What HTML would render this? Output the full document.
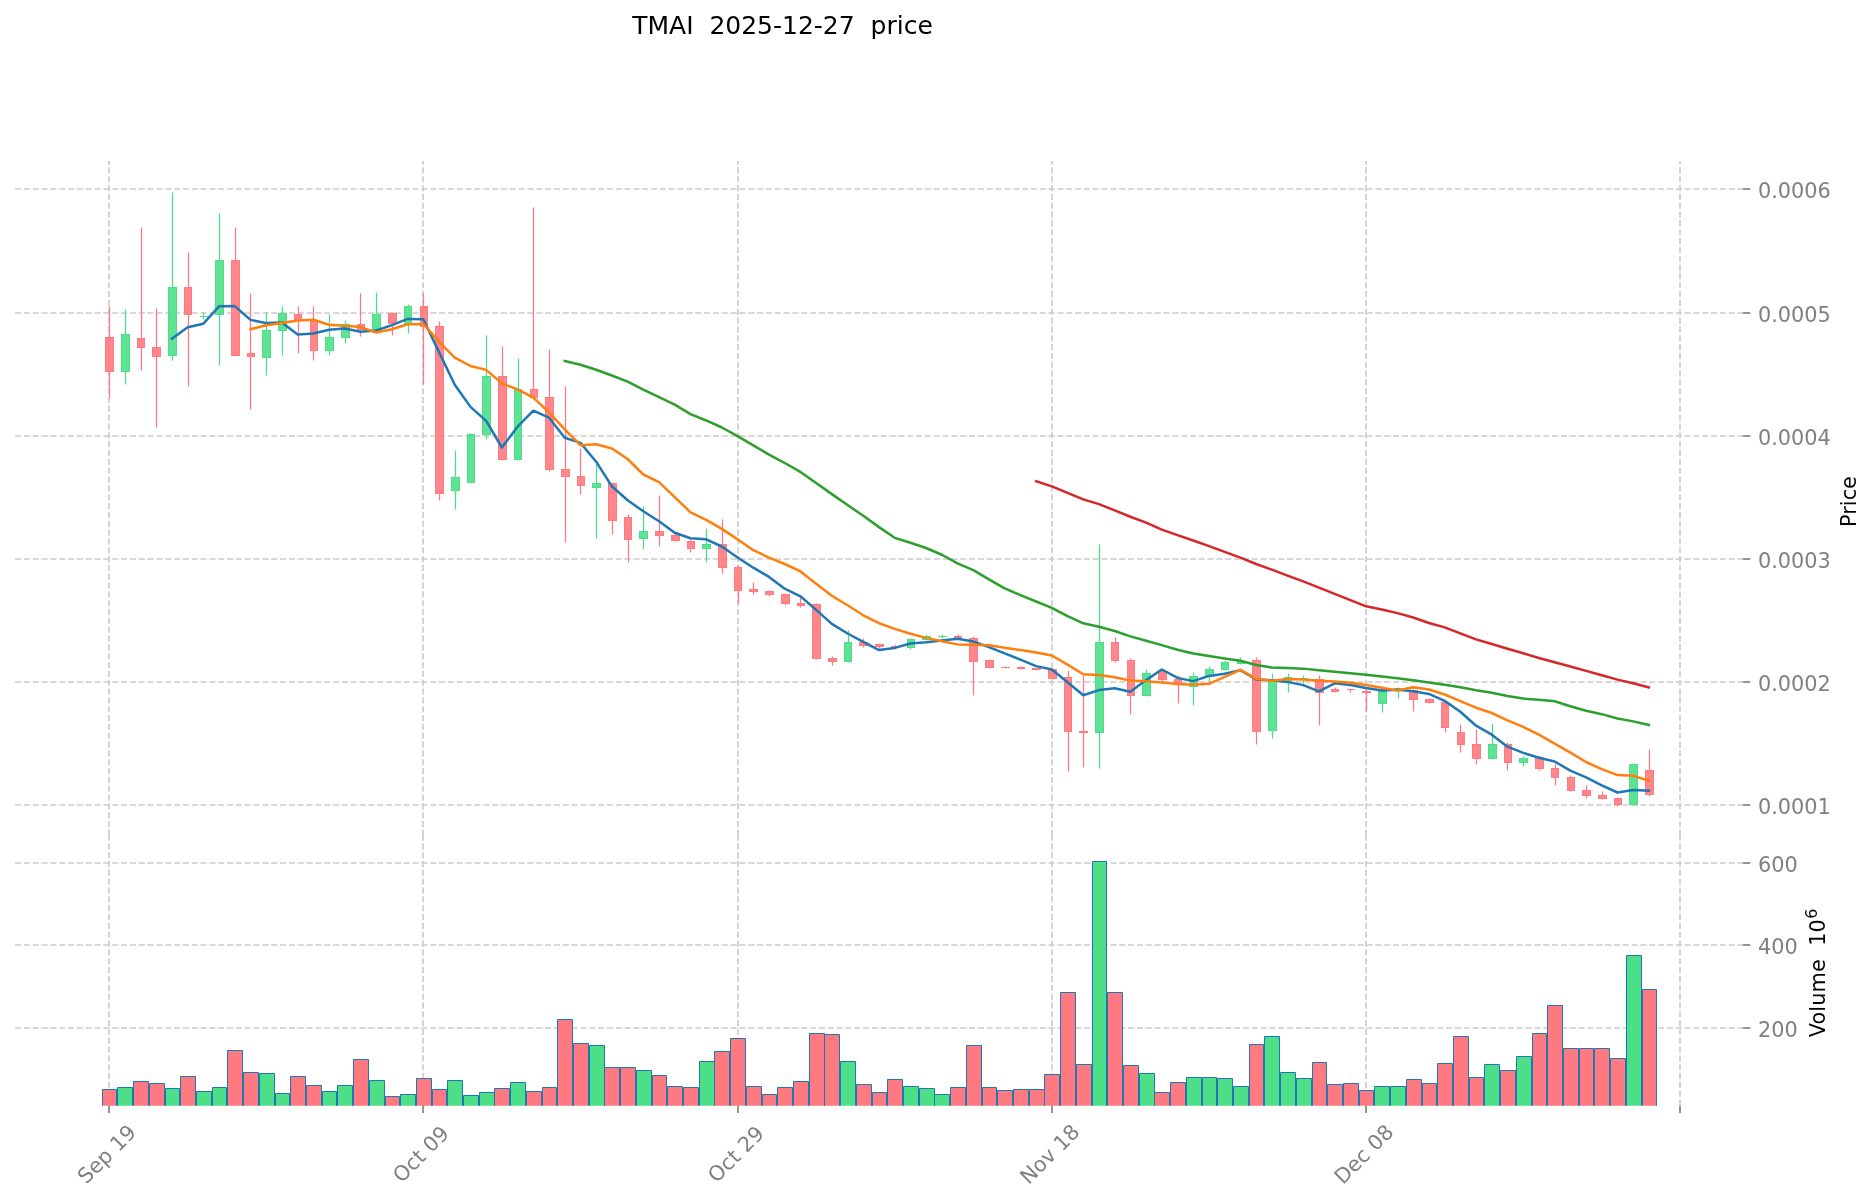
<!DOCTYPE html>
<html><head><meta charset="utf-8"><title>TMAI 2025-12-27 price</title>
<style>html,body{margin:0;padding:0;background:#fff;overflow:hidden}svg{display:block;will-change:transform}</style></head>
<body>
<svg width="1873" height="1202" viewBox="0 0 1873 1202" font-family="'DejaVu Sans', 'Liberation Sans', sans-serif">
<rect width="1873" height="1202" fill="#fff"/>
<defs><clipPath id="cv"><rect x="15.0" y="836.0" width="1727.9" height="269.70000000000005"/></clipPath></defs>
<text x="782.5" y="34.2" font-size="25" text-anchor="middle" fill="#000" xml:space="preserve" style="white-space:pre">TMAI  2025-12-27  price</text>
<g stroke="#cccccc" stroke-width="1.6667" stroke-dasharray="6.1667 2.6667" fill="none">
<path d="M15.0 189H1742.9"/>
<path d="M15.0 313H1742.9"/>
<path d="M15.0 436H1742.9"/>
<path d="M15.0 559H1742.9"/>
<path d="M15.0 682H1742.9"/>
<path d="M15.0 805H1742.9"/>
<path d="M15.0 863H1742.9"/>
<path d="M15.0 945H1742.9"/>
<path d="M15.0 1028H1742.9"/>
<path d="M109 836.0V161.1"/>
<path d="M109 1105.7V836.0"/>
<path d="M423 836.0V161.1"/>
<path d="M423 1105.7V836.0"/>
<path d="M738 836.0V161.1"/>
<path d="M738 1105.7V836.0"/>
<path d="M1052 836.0V161.1"/>
<path d="M1052 1105.7V836.0"/>
<path d="M1366 836.0V161.1"/>
<path d="M1366 1105.7V836.0"/>
<path d="M1680 836.0V161.1"/>
<path d="M1680 1105.7V836.0"/>
</g>
<g stroke="#1f77b4" stroke-width="1" clip-path="url(#cv)">
<path d="M102.5 1112V1089.5H116.5V1112" fill="#ff7a80" fill-opacity="1"/>
<path d="M117.5 1112V1087.5H132.5V1112" fill="#4cdf87" fill-opacity="1"/>
<path d="M133.5 1112V1081.5H148.5V1112" fill="#ff7a80" fill-opacity="1"/>
<path d="M149.5 1112V1083.5H164.5V1112" fill="#ff7a80" fill-opacity="1"/>
<path d="M165.5 1112V1088.5H179.5V1112" fill="#4cdf87" fill-opacity="1"/>
<path d="M180.5 1112V1076.5H195.5V1112" fill="#ff7a80" fill-opacity="1"/>
<path d="M196.5 1112V1091.5H211.5V1112" fill="#4cdf87" fill-opacity="1"/>
<path d="M212.5 1112V1087.5H226.5V1112" fill="#4cdf87" fill-opacity="1"/>
<path d="M227.5 1112V1050.5H242.5V1112" fill="#ff7a80" fill-opacity="1"/>
<path d="M243.5 1112V1072.5H258.5V1112" fill="#ff7a80" fill-opacity="1"/>
<path d="M259.5 1112V1073.5H274.5V1112" fill="#4cdf87" fill-opacity="1"/>
<path d="M275.5 1112V1093.5H289.5V1112" fill="#4cdf87" fill-opacity="1"/>
<path d="M290.5 1112V1076.5H305.5V1112" fill="#ff7a80" fill-opacity="1"/>
<path d="M306.5 1112V1085.5H321.5V1112" fill="#ff7a80" fill-opacity="1"/>
<path d="M322.5 1112V1091.5H336.5V1112" fill="#4cdf87" fill-opacity="1"/>
<path d="M337.5 1112V1085.5H352.5V1112" fill="#4cdf87" fill-opacity="1"/>
<path d="M353.5 1112V1059.5H368.5V1112" fill="#ff7a80" fill-opacity="1"/>
<path d="M369.5 1112V1080.5H384.5V1112" fill="#4cdf87" fill-opacity="1"/>
<path d="M385.5 1112V1096.5H399.5V1112" fill="#ff7a80" fill-opacity="1"/>
<path d="M400.5 1112V1094.5H415.5V1112" fill="#4cdf87" fill-opacity="1"/>
<path d="M416.5 1112V1078.5H431.5V1112" fill="#ff7a80" fill-opacity="1"/>
<path d="M432.5 1112V1089.5H446.5V1112" fill="#ff7a80" fill-opacity="1"/>
<path d="M447.5 1112V1080.5H462.5V1112" fill="#4cdf87" fill-opacity="1"/>
<path d="M463.5 1112V1095.5H478.5V1112" fill="#4cdf87" fill-opacity="1"/>
<path d="M479.5 1112V1092.5H494.5V1112" fill="#4cdf87" fill-opacity="1"/>
<path d="M494.5 1112V1088.5H509.5V1112" fill="#ff7a80" fill-opacity="1"/>
<path d="M510.5 1112V1082.5H525.5V1112" fill="#4cdf87" fill-opacity="1"/>
<path d="M526.5 1112V1091.5H541.5V1112" fill="#ff7a80" fill-opacity="1"/>
<path d="M542.5 1112V1087.5H556.5V1112" fill="#ff7a80" fill-opacity="1"/>
<path d="M557.5 1112V1019.5H572.5V1112" fill="#ff7a80" fill-opacity="1"/>
<path d="M573.5 1112V1043.5H588.5V1112" fill="#ff7a80" fill-opacity="1"/>
<path d="M589.5 1112V1045.5H604.5V1112" fill="#4cdf87" fill-opacity="1"/>
<path d="M604.5 1112V1067.5H619.5V1112" fill="#ff7a80" fill-opacity="1"/>
<path d="M620.5 1112V1067.5H635.5V1112" fill="#ff7a80" fill-opacity="1"/>
<path d="M636.5 1112V1070.5H651.5V1112" fill="#4cdf87" fill-opacity="1"/>
<path d="M652.5 1112V1075.5H666.5V1112" fill="#ff7a80" fill-opacity="1"/>
<path d="M667.5 1112V1086.5H682.5V1112" fill="#ff7a80" fill-opacity="1"/>
<path d="M683.5 1112V1087.5H698.5V1112" fill="#ff7a80" fill-opacity="1"/>
<path d="M699.5 1112V1061.5H714.5V1112" fill="#4cdf87" fill-opacity="1"/>
<path d="M714.5 1112V1051.5H729.5V1112" fill="#ff7a80" fill-opacity="1"/>
<path d="M730.5 1112V1038.5H745.5V1112" fill="#ff7a80" fill-opacity="1"/>
<path d="M746.5 1112V1086.5H761.5V1112" fill="#ff7a80" fill-opacity="1"/>
<path d="M762.5 1112V1094.5H776.5V1112" fill="#ff7a80" fill-opacity="1"/>
<path d="M777.5 1112V1087.5H792.5V1112" fill="#ff7a80" fill-opacity="1"/>
<path d="M793.5 1112V1081.5H808.5V1112" fill="#ff7a80" fill-opacity="1"/>
<path d="M809.5 1112V1033.5H824.5V1112" fill="#ff7a80" fill-opacity="1"/>
<path d="M824.5 1112V1034.5H839.5V1112" fill="#ff7a80" fill-opacity="1"/>
<path d="M840.5 1112V1061.5H855.5V1112" fill="#4cdf87" fill-opacity="1"/>
<path d="M856.5 1112V1084.5H871.5V1112" fill="#ff7a80" fill-opacity="1"/>
<path d="M872.5 1112V1092.5H886.5V1112" fill="#ff7a80" fill-opacity="1"/>
<path d="M887.5 1112V1079.5H902.5V1112" fill="#ff7a80" fill-opacity="1"/>
<path d="M903.5 1112V1086.5H918.5V1112" fill="#4cdf87" fill-opacity="1"/>
<path d="M919.5 1112V1088.5H934.5V1112" fill="#4cdf87" fill-opacity="1"/>
<path d="M934.5 1112V1094.5H949.5V1112" fill="#4cdf87" fill-opacity="1"/>
<path d="M950.5 1112V1087.5H965.5V1112" fill="#ff7a80" fill-opacity="1"/>
<path d="M966.5 1112V1045.5H981.5V1112" fill="#ff7a80" fill-opacity="1"/>
<path d="M982.5 1112V1087.5H996.5V1112" fill="#ff7a80" fill-opacity="1"/>
<path d="M997.5 1112V1090.5H1012.5V1112" fill="#ff7a80" fill-opacity="1"/>
<path d="M1013.5 1112V1089.5H1028.5V1112" fill="#ff7a80" fill-opacity="1"/>
<path d="M1029.5 1112V1089.5H1044.5V1112" fill="#ff7a80" fill-opacity="1"/>
<path d="M1044.5 1112V1074.5H1059.5V1112" fill="#ff7a80" fill-opacity="1"/>
<path d="M1060.5 1112V992.5H1075.5V1112" fill="#ff7a80" fill-opacity="1"/>
<path d="M1076.5 1112V1064.5H1091.5V1112" fill="#ff7a80" fill-opacity="1"/>
<path d="M1092.5 1112V861.5H1106.5V1112" fill="#4cdf87" fill-opacity="1"/>
<path d="M1107.5 1112V992.5H1122.5V1112" fill="#ff7a80" fill-opacity="1"/>
<path d="M1123.5 1112V1065.5H1138.5V1112" fill="#ff7a80" fill-opacity="1"/>
<path d="M1139.5 1112V1073.5H1154.5V1112" fill="#4cdf87" fill-opacity="1"/>
<path d="M1154.5 1112V1092.5H1169.5V1112" fill="#ff7a80" fill-opacity="1"/>
<path d="M1170.5 1112V1082.5H1185.5V1112" fill="#ff7a80" fill-opacity="1"/>
<path d="M1186.5 1112V1077.5H1201.5V1112" fill="#4cdf87" fill-opacity="1"/>
<path d="M1202.5 1112V1077.5H1216.5V1112" fill="#4cdf87" fill-opacity="1"/>
<path d="M1217.5 1112V1078.5H1232.5V1112" fill="#4cdf87" fill-opacity="1"/>
<path d="M1233.5 1112V1086.5H1248.5V1112" fill="#4cdf87" fill-opacity="1"/>
<path d="M1249.5 1112V1044.5H1263.5V1112" fill="#ff7a80" fill-opacity="1"/>
<path d="M1264.5 1112V1036.5H1279.5V1112" fill="#4cdf87" fill-opacity="1"/>
<path d="M1280.5 1112V1072.5H1295.5V1112" fill="#4cdf87" fill-opacity="1"/>
<path d="M1296.5 1112V1078.5H1311.5V1112" fill="#4cdf87" fill-opacity="1"/>
<path d="M1312.5 1112V1062.5H1326.5V1112" fill="#ff7a80" fill-opacity="1"/>
<path d="M1327.5 1112V1084.5H1342.5V1112" fill="#ff7a80" fill-opacity="1"/>
<path d="M1343.5 1112V1083.5H1358.5V1112" fill="#ff7a80" fill-opacity="1"/>
<path d="M1359.5 1112V1090.5H1373.5V1112" fill="#ff7a80" fill-opacity="1"/>
<path d="M1374.5 1112V1086.5H1389.5V1112" fill="#4cdf87" fill-opacity="1"/>
<path d="M1390.5 1112V1086.5H1405.5V1112" fill="#4cdf87" fill-opacity="1"/>
<path d="M1406.5 1112V1079.5H1421.5V1112" fill="#ff7a80" fill-opacity="1"/>
<path d="M1422.5 1112V1083.5H1436.5V1112" fill="#ff7a80" fill-opacity="1"/>
<path d="M1437.5 1112V1063.5H1452.5V1112" fill="#ff7a80" fill-opacity="1"/>
<path d="M1453.5 1112V1036.5H1468.5V1112" fill="#ff7a80" fill-opacity="1"/>
<path d="M1469.5 1112V1077.5H1483.5V1112" fill="#ff7a80" fill-opacity="1"/>
<path d="M1484.5 1112V1064.5H1499.5V1112" fill="#4cdf87" fill-opacity="1"/>
<path d="M1500.5 1112V1070.5H1515.5V1112" fill="#ff7a80" fill-opacity="1"/>
<path d="M1516.5 1112V1056.5H1531.5V1112" fill="#4cdf87" fill-opacity="1"/>
<path d="M1532.5 1112V1033.5H1546.5V1112" fill="#ff7a80" fill-opacity="1"/>
<path d="M1547.5 1112V1005.5H1562.5V1112" fill="#ff7a80" fill-opacity="1"/>
<path d="M1563.5 1112V1048.5H1578.5V1112" fill="#ff7a80" fill-opacity="1"/>
<path d="M1579.5 1112V1048.5H1593.5V1112" fill="#ff7a80" fill-opacity="1"/>
<path d="M1594.5 1112V1048.5H1609.5V1112" fill="#ff7a80" fill-opacity="1"/>
<path d="M1610.5 1112V1058.5H1625.5V1112" fill="#ff7a80" fill-opacity="1"/>
<path d="M1626.5 1112V955.5H1641.5V1112" fill="#4cdf87" fill-opacity="1"/>
<path d="M1642.5 1112V989.5H1656.5V1112" fill="#ff7a80" fill-opacity="1"/>
</g>
<g stroke-width="1">
<path d="M109.5 306.5V337.5M109.5 371.5V398.5" stroke="#ff7a80" stroke-width="1.25"/>
<rect x="105.5" y="337.5" width="8" height="34" fill="#ff7a80" fill-opacity="0.9" stroke="#ff7a80"/>
<path d="M125.5 309.5V334.5M125.5 371.5V384.5" stroke="#4cdf87" stroke-width="1.25"/>
<rect x="121.5" y="334.5" width="8" height="37" fill="#4cdf87" fill-opacity="0.9" stroke="#4cdf87"/>
<path d="M141.5 227.5V338.5M141.5 347.5V370.5" stroke="#ff7a80" stroke-width="1.25"/>
<rect x="137.5" y="338.5" width="7" height="9" fill="#ff7a80" fill-opacity="0.9" stroke="#ff7a80"/>
<path d="M156.5 308.5V347.5M156.5 356.5V427.5" stroke="#ff7a80" stroke-width="1.25"/>
<rect x="152.5" y="347.5" width="8" height="9" fill="#ff7a80" fill-opacity="0.9" stroke="#ff7a80"/>
<path d="M172.5 192.5V287.5M172.5 355.5V360.5" stroke="#4cdf87" stroke-width="1.25"/>
<rect x="168.5" y="287.5" width="8" height="68" fill="#4cdf87" fill-opacity="0.9" stroke="#4cdf87"/>
<path d="M188.5 252.5V287.5M188.5 314.5V386.5" stroke="#ff7a80" stroke-width="1.25"/>
<rect x="184.5" y="287.5" width="7" height="27" fill="#ff7a80" fill-opacity="0.9" stroke="#ff7a80"/>
<path d="M203.5 312.5V316.5M203.5 316.5V319.5" stroke="#4cdf87" stroke-width="1.25"/>
<path d="M200 316.5H208" stroke="#4cdf87"/>
<path d="M219.5 213.5V260.5M219.5 314.5V365.5" stroke="#4cdf87" stroke-width="1.25"/>
<rect x="215.5" y="260.5" width="8" height="54" fill="#4cdf87" fill-opacity="0.9" stroke="#4cdf87"/>
<path d="M235.5 227.5V260.5" stroke="#ff7a80" stroke-width="1.25"/>
<rect x="231.5" y="260.5" width="8" height="95" fill="#ff7a80" fill-opacity="0.9" stroke="#ff7a80"/>
<path d="M250.5 293.5V353.5M250.5 356.5V409.5" stroke="#ff7a80" stroke-width="1.25"/>
<rect x="247.5" y="353.5" width="7" height="3" fill="#ff7a80" fill-opacity="0.9" stroke="#ff7a80"/>
<path d="M266.5 312.5V330.5M266.5 357.5V375.5" stroke="#4cdf87" stroke-width="1.25"/>
<rect x="262.5" y="330.5" width="8" height="27" fill="#4cdf87" fill-opacity="0.9" stroke="#4cdf87"/>
<path d="M282.5 306.5V313.5M282.5 330.5V355.5" stroke="#4cdf87" stroke-width="1.25"/>
<rect x="278.5" y="313.5" width="8" height="17" fill="#4cdf87" fill-opacity="0.9" stroke="#4cdf87"/>
<path d="M298.5 306.5V314.5M298.5 320.5V353.5" stroke="#ff7a80" stroke-width="1.25"/>
<rect x="294.5" y="314.5" width="7" height="6" fill="#ff7a80" fill-opacity="0.9" stroke="#ff7a80"/>
<path d="M313.5 306.5V321.5M313.5 350.5V360.5" stroke="#ff7a80" stroke-width="1.25"/>
<rect x="310.5" y="321.5" width="7" height="29" fill="#ff7a80" fill-opacity="0.9" stroke="#ff7a80"/>
<path d="M329.5 314.5V337.5M329.5 350.5V355.5" stroke="#4cdf87" stroke-width="1.25"/>
<rect x="325.5" y="337.5" width="8" height="13" fill="#4cdf87" fill-opacity="0.9" stroke="#4cdf87"/>
<path d="M345.5 320.5V324.5M345.5 337.5V343.5" stroke="#4cdf87" stroke-width="1.25"/>
<rect x="341.5" y="324.5" width="8" height="13" fill="#4cdf87" fill-opacity="0.9" stroke="#4cdf87"/>
<path d="M360.5 293.5V324.5M360.5 329.5V336.5" stroke="#ff7a80" stroke-width="1.25"/>
<rect x="357.5" y="324.5" width="7" height="5" fill="#ff7a80" fill-opacity="0.9" stroke="#ff7a80"/>
<path d="M376.5 292.5V314.5M376.5 330.5V333.5" stroke="#4cdf87" stroke-width="1.25"/>
<rect x="372.5" y="314.5" width="8" height="16" fill="#4cdf87" fill-opacity="0.9" stroke="#4cdf87"/>
<path d="M392.5 312.5V313.5M392.5 323.5V335.5" stroke="#ff7a80" stroke-width="1.25"/>
<rect x="388.5" y="313.5" width="8" height="10" fill="#ff7a80" fill-opacity="0.9" stroke="#ff7a80"/>
<path d="M408.5 304.5V306.5M408.5 323.5V333.5" stroke="#4cdf87" stroke-width="1.25"/>
<rect x="404.5" y="306.5" width="7" height="17" fill="#4cdf87" fill-opacity="0.9" stroke="#4cdf87"/>
<path d="M423.5 293.5V306.5M423.5 326.5V384.5" stroke="#ff7a80" stroke-width="1.25"/>
<rect x="420.5" y="306.5" width="7" height="20" fill="#ff7a80" fill-opacity="0.9" stroke="#ff7a80"/>
<path d="M439.5 321.5V326.5M439.5 493.5V500.5" stroke="#ff7a80" stroke-width="1.25"/>
<rect x="435.5" y="326.5" width="8" height="167" fill="#ff7a80" fill-opacity="0.9" stroke="#ff7a80"/>
<path d="M455.5 450.5V477.5M455.5 490.5V509.5" stroke="#4cdf87" stroke-width="1.25"/>
<rect x="451.5" y="477.5" width="8" height="13" fill="#4cdf87" fill-opacity="0.9" stroke="#4cdf87"/>
<path d="M470.5 433.5V434.5M470.5 482.5V483.5" stroke="#4cdf87" stroke-width="1.25"/>
<rect x="467.5" y="434.5" width="7" height="48" fill="#4cdf87" fill-opacity="0.9" stroke="#4cdf87"/>
<path d="M486.5 335.5V376.5M486.5 434.5V439.5" stroke="#4cdf87" stroke-width="1.25"/>
<rect x="482.5" y="376.5" width="8" height="58" fill="#4cdf87" fill-opacity="0.9" stroke="#4cdf87"/>
<path d="M502.5 346.5V376.5M502.5 459.5V460.5" stroke="#ff7a80" stroke-width="1.25"/>
<rect x="498.5" y="376.5" width="8" height="83" fill="#ff7a80" fill-opacity="0.9" stroke="#ff7a80"/>
<path d="M518.5 358.5V389.5M518.5 459.5V460.5" stroke="#4cdf87" stroke-width="1.25"/>
<rect x="514.5" y="389.5" width="7" height="70" fill="#4cdf87" fill-opacity="0.9" stroke="#4cdf87"/>
<path d="M533.5 207.5V389.5M533.5 397.5V398.5" stroke="#ff7a80" stroke-width="1.25"/>
<rect x="530.5" y="389.5" width="7" height="8" fill="#ff7a80" fill-opacity="0.9" stroke="#ff7a80"/>
<path d="M549.5 349.5V397.5M549.5 469.5V471.5" stroke="#ff7a80" stroke-width="1.25"/>
<rect x="545.5" y="397.5" width="8" height="72" fill="#ff7a80" fill-opacity="0.9" stroke="#ff7a80"/>
<path d="M565.5 386.5V469.5M565.5 476.5V542.5" stroke="#ff7a80" stroke-width="1.25"/>
<rect x="561.5" y="469.5" width="8" height="7" fill="#ff7a80" fill-opacity="0.9" stroke="#ff7a80"/>
<path d="M580.5 448.5V476.5M580.5 485.5V494.5" stroke="#ff7a80" stroke-width="1.25"/>
<rect x="577.5" y="476.5" width="7" height="9" fill="#ff7a80" fill-opacity="0.9" stroke="#ff7a80"/>
<path d="M596.5 463.5V483.5M596.5 487.5V538.5" stroke="#4cdf87" stroke-width="1.25"/>
<rect x="592.5" y="483.5" width="8" height="4" fill="#4cdf87" fill-opacity="0.9" stroke="#4cdf87"/>
<path d="M612.5 482.5V483.5M612.5 520.5V534.5" stroke="#ff7a80" stroke-width="1.25"/>
<rect x="608.5" y="483.5" width="8" height="37" fill="#ff7a80" fill-opacity="0.9" stroke="#ff7a80"/>
<path d="M628.5 514.5V517.5M628.5 539.5V562.5" stroke="#ff7a80" stroke-width="1.25"/>
<rect x="624.5" y="517.5" width="7" height="22" fill="#ff7a80" fill-opacity="0.9" stroke="#ff7a80"/>
<path d="M643.5 506.5V531.5M643.5 538.5V549.5" stroke="#4cdf87" stroke-width="1.25"/>
<rect x="639.5" y="531.5" width="8" height="7" fill="#4cdf87" fill-opacity="0.9" stroke="#4cdf87"/>
<path d="M659.5 495.5V531.5M659.5 535.5V546.5" stroke="#ff7a80" stroke-width="1.25"/>
<rect x="655.5" y="531.5" width="8" height="4" fill="#ff7a80" fill-opacity="0.9" stroke="#ff7a80"/>
<path d="M675.5 533.5V535.5M675.5 540.5V541.5" stroke="#ff7a80" stroke-width="1.25"/>
<rect x="671.5" y="535.5" width="8" height="5" fill="#ff7a80" fill-opacity="0.9" stroke="#ff7a80"/>
<path d="M690.5 539.5V541.5M690.5 548.5V552.5" stroke="#ff7a80" stroke-width="1.25"/>
<rect x="687.5" y="541.5" width="7" height="7" fill="#ff7a80" fill-opacity="0.9" stroke="#ff7a80"/>
<path d="M706.5 528.5V544.5M706.5 548.5V562.5" stroke="#4cdf87" stroke-width="1.25"/>
<rect x="702.5" y="544.5" width="8" height="4" fill="#4cdf87" fill-opacity="0.9" stroke="#4cdf87"/>
<path d="M722.5 519.5V544.5M722.5 567.5V573.5" stroke="#ff7a80" stroke-width="1.25"/>
<rect x="718.5" y="544.5" width="8" height="23" fill="#ff7a80" fill-opacity="0.9" stroke="#ff7a80"/>
<path d="M738.5 565.5V567.5M738.5 590.5V603.5" stroke="#ff7a80" stroke-width="1.25"/>
<rect x="734.5" y="567.5" width="7" height="23" fill="#ff7a80" fill-opacity="0.9" stroke="#ff7a80"/>
<path d="M753.5 582.5V589.5M753.5 591.5V594.5" stroke="#ff7a80" stroke-width="1.25"/>
<rect x="749.5" y="589.5" width="8" height="2" fill="#ff7a80" fill-opacity="0.9" stroke="#ff7a80"/>
<path d="M769.5 590.5V591.5M769.5 594.5V596.5" stroke="#ff7a80" stroke-width="1.25"/>
<rect x="765.5" y="591.5" width="8" height="3" fill="#ff7a80" fill-opacity="0.9" stroke="#ff7a80"/>
<path d="M785.5 593.5V594.5M785.5 603.5V605.5" stroke="#ff7a80" stroke-width="1.25"/>
<rect x="781.5" y="594.5" width="8" height="9" fill="#ff7a80" fill-opacity="0.9" stroke="#ff7a80"/>
<path d="M800.5 597.5V603.5M800.5 605.5V607.5" stroke="#ff7a80" stroke-width="1.25"/>
<rect x="797.5" y="603.5" width="7" height="2" fill="#ff7a80" fill-opacity="0.9" stroke="#ff7a80"/>
<path d="M816.5 603.5V604.5M816.5 658.5V659.5" stroke="#ff7a80" stroke-width="1.25"/>
<rect x="812.5" y="604.5" width="8" height="54" fill="#ff7a80" fill-opacity="0.9" stroke="#ff7a80"/>
<path d="M832.5 656.5V658.5M832.5 661.5V665.5" stroke="#ff7a80" stroke-width="1.25"/>
<rect x="828.5" y="658.5" width="8" height="3" fill="#ff7a80" fill-opacity="0.9" stroke="#ff7a80"/>
<path d="M848.5 630.5V642.5M848.5 661.5V662.5" stroke="#4cdf87" stroke-width="1.25"/>
<rect x="844.5" y="642.5" width="7" height="19" fill="#4cdf87" fill-opacity="0.9" stroke="#4cdf87"/>
<path d="M863.5 638.5V642.5M863.5 645.5V647.5" stroke="#ff7a80" stroke-width="1.25"/>
<rect x="859.5" y="642.5" width="8" height="3" fill="#ff7a80" fill-opacity="0.9" stroke="#ff7a80"/>
<path d="M879.5 643.5V644.5M879.5 646.5V648.5" stroke="#ff7a80" stroke-width="1.25"/>
<rect x="875.5" y="644.5" width="8" height="2" fill="#ff7a80" fill-opacity="0.9" stroke="#ff7a80"/>
<path d="M895.5 644.5V646.5M895.5 647.5V649.5" stroke="#ff7a80" stroke-width="1.25"/>
<rect x="891.5" y="646.5" width="8" height="1" fill="#ff7a80" fill-opacity="0.9" stroke="#ff7a80"/>
<path d="M910.5 638.5V639.5M910.5 647.5V649.5" stroke="#4cdf87" stroke-width="1.25"/>
<rect x="907.5" y="639.5" width="7" height="8" fill="#4cdf87" fill-opacity="0.9" stroke="#4cdf87"/>
<path d="M926.5 634.5V636.5M926.5 639.5V640.5" stroke="#4cdf87" stroke-width="1.25"/>
<rect x="922.5" y="636.5" width="8" height="3" fill="#4cdf87" fill-opacity="0.9" stroke="#4cdf87"/>
<path d="M942.5 634.5V636.5M942.5 636.5V638.5" stroke="#4cdf87" stroke-width="1.25"/>
<path d="M938 636.5H947" stroke="#4cdf87"/>
<path d="M958.5 634.5V636.5M958.5 637.5V639.5" stroke="#ff7a80" stroke-width="1.25"/>
<rect x="954.5" y="636.5" width="7" height="1" fill="#ff7a80" fill-opacity="0.9" stroke="#ff7a80"/>
<path d="M973.5 636.5V638.5M973.5 661.5V695.5" stroke="#ff7a80" stroke-width="1.25"/>
<rect x="969.5" y="638.5" width="8" height="23" fill="#ff7a80" fill-opacity="0.9" stroke="#ff7a80"/>
<path d="M989.5 659.5V660.5M989.5 667.5V668.5" stroke="#ff7a80" stroke-width="1.25"/>
<rect x="985.5" y="660.5" width="8" height="7" fill="#ff7a80" fill-opacity="0.9" stroke="#ff7a80"/>
<path d="M1005.5 666.5V667.5M1005.5 667.5V668.5" stroke="#ff7a80" stroke-width="1.25"/>
<path d="M1001 667.5H1010" stroke="#ff7a80"/>
<path d="M1020.5 666.5V667.5M1020.5 668.5V669.5" stroke="#ff7a80" stroke-width="1.25"/>
<rect x="1017.5" y="667.5" width="7" height="1" fill="#ff7a80" fill-opacity="0.9" stroke="#ff7a80"/>
<path d="M1036.5 667.5V668.5M1036.5 669.5V670.5" stroke="#ff7a80" stroke-width="1.25"/>
<rect x="1032.5" y="668.5" width="8" height="1" fill="#ff7a80" fill-opacity="0.9" stroke="#ff7a80"/>
<path d="M1052.5 668.5V669.5M1052.5 678.5V679.5" stroke="#ff7a80" stroke-width="1.25"/>
<rect x="1048.5" y="669.5" width="8" height="9" fill="#ff7a80" fill-opacity="0.9" stroke="#ff7a80"/>
<path d="M1068.5 670.5V677.5M1068.5 731.5V771.5" stroke="#ff7a80" stroke-width="1.25"/>
<rect x="1064.5" y="677.5" width="7" height="54" fill="#ff7a80" fill-opacity="0.9" stroke="#ff7a80"/>
<path d="M1083.5 674.5V731.5M1083.5 732.5V767.5" stroke="#ff7a80" stroke-width="1.25"/>
<rect x="1079.5" y="731.5" width="8" height="1" fill="#ff7a80" fill-opacity="0.9" stroke="#ff7a80"/>
<path d="M1099.5 544.5V642.5M1099.5 732.5V768.5" stroke="#4cdf87" stroke-width="1.25"/>
<rect x="1095.5" y="642.5" width="8" height="90" fill="#4cdf87" fill-opacity="0.9" stroke="#4cdf87"/>
<path d="M1115.5 637.5V642.5M1115.5 660.5V662.5" stroke="#ff7a80" stroke-width="1.25"/>
<rect x="1111.5" y="642.5" width="7" height="18" fill="#ff7a80" fill-opacity="0.9" stroke="#ff7a80"/>
<path d="M1130.5 658.5V660.5M1130.5 695.5V714.5" stroke="#ff7a80" stroke-width="1.25"/>
<rect x="1127.5" y="660.5" width="7" height="35" fill="#ff7a80" fill-opacity="0.9" stroke="#ff7a80"/>
<path d="M1146.5 669.5V673.5M1146.5 695.5V696.5" stroke="#4cdf87" stroke-width="1.25"/>
<rect x="1142.5" y="673.5" width="8" height="22" fill="#4cdf87" fill-opacity="0.9" stroke="#4cdf87"/>
<path d="M1162.5 670.5V671.5M1162.5 679.5V682.5" stroke="#ff7a80" stroke-width="1.25"/>
<rect x="1158.5" y="671.5" width="8" height="8" fill="#ff7a80" fill-opacity="0.9" stroke="#ff7a80"/>
<path d="M1178.5 675.5V679.5M1178.5 684.5V703.5" stroke="#ff7a80" stroke-width="1.25"/>
<rect x="1174.5" y="679.5" width="7" height="5" fill="#ff7a80" fill-opacity="0.9" stroke="#ff7a80"/>
<path d="M1193.5 672.5V676.5M1193.5 686.5V705.5" stroke="#4cdf87" stroke-width="1.25"/>
<rect x="1189.5" y="676.5" width="8" height="10" fill="#4cdf87" fill-opacity="0.9" stroke="#4cdf87"/>
<path d="M1209.5 666.5V669.5M1209.5 676.5V682.5" stroke="#4cdf87" stroke-width="1.25"/>
<rect x="1205.5" y="669.5" width="8" height="7" fill="#4cdf87" fill-opacity="0.9" stroke="#4cdf87"/>
<path d="M1225.5 660.5V662.5M1225.5 669.5V670.5" stroke="#4cdf87" stroke-width="1.25"/>
<rect x="1221.5" y="662.5" width="7" height="7" fill="#4cdf87" fill-opacity="0.9" stroke="#4cdf87"/>
<path d="M1240.5 657.5V661.5M1240.5 663.5V664.5" stroke="#4cdf87" stroke-width="1.25"/>
<rect x="1237.5" y="661.5" width="7" height="2" fill="#4cdf87" fill-opacity="0.9" stroke="#4cdf87"/>
<path d="M1256.5 657.5V660.5M1256.5 731.5V744.5" stroke="#ff7a80" stroke-width="1.25"/>
<rect x="1252.5" y="660.5" width="8" height="71" fill="#ff7a80" fill-opacity="0.9" stroke="#ff7a80"/>
<path d="M1272.5 673.5V680.5M1272.5 730.5V738.5" stroke="#4cdf87" stroke-width="1.25"/>
<rect x="1268.5" y="680.5" width="8" height="50" fill="#4cdf87" fill-opacity="0.9" stroke="#4cdf87"/>
<path d="M1288.5 673.5V677.5M1288.5 680.5V692.5" stroke="#4cdf87" stroke-width="1.25"/>
<rect x="1284.5" y="677.5" width="7" height="3" fill="#4cdf87" fill-opacity="0.9" stroke="#4cdf87"/>
<path d="M1303.5 675.5V678.5M1303.5 679.5V684.5" stroke="#4cdf87" stroke-width="1.25"/>
<rect x="1299.5" y="678.5" width="8" height="1" fill="#4cdf87" fill-opacity="0.9" stroke="#4cdf87"/>
<path d="M1319.5 675.5V679.5M1319.5 692.5V725.5" stroke="#ff7a80" stroke-width="1.25"/>
<rect x="1315.5" y="679.5" width="8" height="13" fill="#ff7a80" fill-opacity="0.9" stroke="#ff7a80"/>
<path d="M1335.5 687.5V689.5M1335.5 691.5V692.5" stroke="#ff7a80" stroke-width="1.25"/>
<rect x="1331.5" y="689.5" width="7" height="2" fill="#ff7a80" fill-opacity="0.9" stroke="#ff7a80"/>
<path d="M1350.5 688.5V689.5M1350.5 689.5V692.5" stroke="#ff7a80" stroke-width="1.25"/>
<path d="M1347 689.5H1355" stroke="#ff7a80"/>
<path d="M1366.5 689.5V691.5M1366.5 692.5V711.5" stroke="#ff7a80" stroke-width="1.25"/>
<rect x="1362.5" y="691.5" width="8" height="1" fill="#ff7a80" fill-opacity="0.9" stroke="#ff7a80"/>
<path d="M1382.5 688.5V690.5M1382.5 703.5V712.5" stroke="#4cdf87" stroke-width="1.25"/>
<rect x="1378.5" y="690.5" width="8" height="13" fill="#4cdf87" fill-opacity="0.9" stroke="#4cdf87"/>
<path d="M1398.5 687.5V688.5M1398.5 688.5V698.5" stroke="#4cdf87" stroke-width="1.25"/>
<path d="M1394 688.5H1402" stroke="#4cdf87"/>
<path d="M1413.5 688.5V690.5M1413.5 699.5V711.5" stroke="#ff7a80" stroke-width="1.25"/>
<rect x="1409.5" y="690.5" width="8" height="9" fill="#ff7a80" fill-opacity="0.9" stroke="#ff7a80"/>
<path d="M1429.5 698.5V699.5M1429.5 702.5V703.5" stroke="#ff7a80" stroke-width="1.25"/>
<rect x="1425.5" y="699.5" width="8" height="3" fill="#ff7a80" fill-opacity="0.9" stroke="#ff7a80"/>
<path d="M1445.5 701.5V702.5M1445.5 727.5V732.5" stroke="#ff7a80" stroke-width="1.25"/>
<rect x="1441.5" y="702.5" width="7" height="25" fill="#ff7a80" fill-opacity="0.9" stroke="#ff7a80"/>
<path d="M1460.5 724.5V732.5M1460.5 744.5V752.5" stroke="#ff7a80" stroke-width="1.25"/>
<rect x="1457.5" y="732.5" width="7" height="12" fill="#ff7a80" fill-opacity="0.9" stroke="#ff7a80"/>
<path d="M1476.5 729.5V744.5M1476.5 758.5V764.5" stroke="#ff7a80" stroke-width="1.25"/>
<rect x="1472.5" y="744.5" width="8" height="14" fill="#ff7a80" fill-opacity="0.9" stroke="#ff7a80"/>
<path d="M1492.5 723.5V744.5M1492.5 758.5V759.5" stroke="#4cdf87" stroke-width="1.25"/>
<rect x="1488.5" y="744.5" width="8" height="14" fill="#4cdf87" fill-opacity="0.9" stroke="#4cdf87"/>
<path d="M1507.5 742.5V744.5M1507.5 762.5V770.5" stroke="#ff7a80" stroke-width="1.25"/>
<rect x="1504.5" y="744.5" width="7" height="18" fill="#ff7a80" fill-opacity="0.9" stroke="#ff7a80"/>
<path d="M1523.5 756.5V758.5M1523.5 762.5V766.5" stroke="#4cdf87" stroke-width="1.25"/>
<rect x="1519.5" y="758.5" width="8" height="4" fill="#4cdf87" fill-opacity="0.9" stroke="#4cdf87"/>
<path d="M1539.5 755.5V757.5M1539.5 768.5V770.5" stroke="#ff7a80" stroke-width="1.25"/>
<rect x="1535.5" y="757.5" width="8" height="11" fill="#ff7a80" fill-opacity="0.9" stroke="#ff7a80"/>
<path d="M1555.5 763.5V768.5M1555.5 777.5V785.5" stroke="#ff7a80" stroke-width="1.25"/>
<rect x="1551.5" y="768.5" width="7" height="9" fill="#ff7a80" fill-opacity="0.9" stroke="#ff7a80"/>
<path d="M1570.5 775.5V777.5M1570.5 790.5V791.5" stroke="#ff7a80" stroke-width="1.25"/>
<rect x="1567.5" y="777.5" width="7" height="13" fill="#ff7a80" fill-opacity="0.9" stroke="#ff7a80"/>
<path d="M1586.5 785.5V790.5M1586.5 795.5V798.5" stroke="#ff7a80" stroke-width="1.25"/>
<rect x="1582.5" y="790.5" width="8" height="5" fill="#ff7a80" fill-opacity="0.9" stroke="#ff7a80"/>
<path d="M1602.5 791.5V795.5M1602.5 798.5V799.5" stroke="#ff7a80" stroke-width="1.25"/>
<rect x="1598.5" y="795.5" width="8" height="3" fill="#ff7a80" fill-opacity="0.9" stroke="#ff7a80"/>
<path d="M1617.5 797.5V798.5M1617.5 804.5V806.5" stroke="#ff7a80" stroke-width="1.25"/>
<rect x="1614.5" y="798.5" width="7" height="6" fill="#ff7a80" fill-opacity="0.9" stroke="#ff7a80"/>
<path d="M1633.5 763.5V764.5M1633.5 804.5V805.5" stroke="#4cdf87" stroke-width="1.25"/>
<rect x="1629.5" y="764.5" width="8" height="40" fill="#4cdf87" fill-opacity="0.9" stroke="#4cdf87"/>
<path d="M1649.5 749.5V770.5M1649.5 794.5V796.5" stroke="#ff7a80" stroke-width="1.25"/>
<rect x="1645.5" y="770.5" width="8" height="24" fill="#ff7a80" fill-opacity="0.9" stroke="#ff7a80"/>
</g>
<path d="M171.93 338.7 L187.65 327.3 L203.36 323.7 L219.07 306.3 L234.78 306.1 L250.5 319.9 L266.21 323.1 L281.92 322.5 L297.63 334.5 L313.35 333.5 L329.06 329.7 L344.77 328.5 L360.48 331.7 L376.2 330.5 L391.91 325.1 L407.62 318.9 L423.33 319.3 L439.05 352.1 L454.76 384.7 L470.47 406.9 L486.18 420.9 L501.9 447.5 L517.61 426.7 L533.32 410.7 L549.03 417.7 L564.75 437.7 L580.46 442.9 L596.17 461.7 L611.88 486.3 L627.6 500.3 L643.31 511.3 L659.02 521.3 L674.73 532.7 L690.45 538.3 L706.16 539.3 L721.87 546.5 L737.58 557.5 L753.3 567.7 L769.01 576.9 L784.72 588.7 L800.43 596.3 L816.14 609.9 L831.86 623.9 L847.57 633.5 L863.28 641.9 L878.99 650.1 L894.71 647.9 L910.42 643.5 L926.13 642.3 L941.84 640.5 L957.56 638.7 L973.27 641.5 L988.98 647.1 L1004.69 653.3 L1020.41 659.7 L1036.12 666.1 L1051.83 669.5 L1067.54 682.3 L1083.26 695.3 L1098.97 690.1 L1114.68 688.3 L1130.39 691.7 L1146.11 680.1 L1161.82 669.5 L1177.53 677.9 L1193.24 681.1 L1208.96 675.9 L1224.67 673.7 L1240.38 670.1 L1256.09 679.5 L1271.81 680.3 L1287.52 681.9 L1303.23 685.1 L1318.94 691.3 L1334.66 683.3 L1350.37 685.1 L1366.08 688.1 L1381.79 690.5 L1397.51 689.7 L1413.22 691.3 L1428.93 693.9 L1444.64 700.9 L1460.35 711.7 L1476.07 725.7 L1491.78 734.7 L1507.49 746.7 L1523.2 752.9 L1538.92 757.7 L1554.63 761.5 L1570.34 770.7 L1586.05 777.3 L1601.77 785.3 L1617.48 792.5 L1633.19 789.9 L1648.9 790.7" fill="none" stroke="#1f77b4" stroke-width="2.5" stroke-linejoin="round" stroke-linecap="square"/>
<path d="M250.5 329.3 L266.21 325.2 L281.92 323.1 L297.63 320.4 L313.35 319.8 L329.06 324.8 L344.77 325.8 L360.48 327.1 L376.2 332.5 L391.91 329.3 L407.62 324.3 L423.33 323.9 L439.05 341.9 L454.76 357.6 L470.47 366 L486.18 369.9 L501.9 383.4 L517.61 389.4 L533.32 397.7 L549.03 412.3 L564.75 429.3 L580.46 445.2 L596.17 444.2 L611.88 448.5 L627.6 459 L643.31 474.5 L659.02 482.1 L674.73 497.2 L690.45 512.3 L706.16 519.8 L721.87 528.9 L737.58 539.4 L753.3 550.2 L769.01 557.6 L784.72 564 L800.43 571.4 L816.14 583.7 L831.86 595.8 L847.57 605.2 L863.28 615.3 L878.99 623.2 L894.71 628.9 L910.42 633.7 L926.13 637.9 L941.84 641.2 L957.56 644.4 L973.27 644.7 L988.98 645.3 L1004.69 647.8 L1020.41 650.1 L1036.12 652.4 L1051.83 655.5 L1067.54 664.7 L1083.26 674.3 L1098.97 674.9 L1114.68 677.2 L1130.39 680.6 L1146.11 681.2 L1161.82 682.4 L1177.53 684 L1193.24 684.7 L1208.96 683.8 L1224.67 676.9 L1240.38 669.8 L1256.09 678.7 L1271.81 680.7 L1287.52 678.9 L1303.23 679.4 L1318.94 680.7 L1334.66 681.4 L1350.37 682.7 L1366.08 685 L1381.79 687.8 L1397.51 690.5 L1413.22 687.3 L1428.93 689.5 L1444.64 694.5 L1460.35 701.1 L1476.07 707.7 L1491.78 713 L1507.49 720.3 L1523.2 726.9 L1538.92 734.7 L1554.63 743.6 L1570.34 752.7 L1586.05 762 L1601.77 769.1 L1617.48 775.1 L1633.19 775.7 L1648.9 780.7" fill="none" stroke="#ff7f0e" stroke-width="2.5" stroke-linejoin="round" stroke-linecap="square"/>
<path d="M564.75 360.97 L580.46 364.77 L596.17 369.73 L611.88 375.5 L627.6 381.6 L643.31 389.73 L659.02 397.1 L674.73 404.57 L690.45 414.17 L706.16 420.47 L721.87 427.5 L737.58 436.17 L753.3 445.43 L769.01 454.57 L784.72 463 L800.43 471.93 L816.14 483.07 L831.86 494.13 L847.57 505.07 L863.28 515.8 L878.99 527.13 L894.71 537.83 L910.42 542.7 L926.13 548 L941.84 554.73 L957.56 563.43 L973.27 570.17 L988.98 579.43 L1004.69 588.43 L1020.41 595.07 L1036.12 601.5 L1051.83 607.93 L1067.54 616.2 L1083.26 623.27 L1098.97 626.7 L1114.68 631 L1130.39 636.33 L1146.11 640.77 L1161.82 645.13 L1177.53 649.8 L1193.24 653.43 L1208.96 656.07 L1224.67 658.43 L1240.38 660.67 L1256.09 664.93 L1271.81 667.43 L1287.52 668.07 L1303.23 668.63 L1318.94 670.3 L1334.66 671.83 L1350.37 673.27 L1366.08 674.77 L1381.79 676.47 L1397.51 678.2 L1413.22 680.3 L1428.93 682.47 L1444.64 684.67 L1460.35 687.23 L1476.07 690.27 L1491.78 692.8 L1507.49 695.9 L1523.2 698.57 L1538.92 699.8 L1554.63 701.3 L1570.34 706.23 L1586.05 710.73 L1601.77 714.17 L1617.48 718.53 L1633.19 721.37 L1648.9 725.03" fill="none" stroke="#2ca02c" stroke-width="2.5" stroke-linejoin="round" stroke-linecap="square"/>
<path d="M1036.12 481.23 L1051.83 486.35 L1067.54 492.97 L1083.26 499.38 L1098.97 504.15 L1114.68 510.37 L1130.39 516.72 L1146.11 522.67 L1161.82 529.65 L1177.53 535.13 L1193.24 540.47 L1208.96 546.12 L1224.67 551.93 L1240.38 557.62 L1256.09 563.97 L1271.81 569.68 L1287.52 575.57 L1303.23 581.38 L1318.94 587.68 L1334.66 593.82 L1350.37 600.2 L1366.08 606.3 L1381.79 609.58 L1397.51 613.1 L1413.22 617.52 L1428.93 622.95 L1444.64 627.42 L1460.35 633.33 L1476.07 639.35 L1491.78 643.93 L1507.49 648.7 L1523.2 653.25 L1538.92 658 L1554.63 662.28 L1570.34 666.47 L1586.05 670.87 L1601.77 675.25 L1617.48 679.65 L1633.19 683.25 L1648.9 687.42" fill="none" stroke="#d62728" stroke-width="2.5" stroke-linejoin="round" stroke-linecap="square"/>
<g stroke="#808080" stroke-width="1.6667">
<path d="M1742.9 189h7.3"/>
<path d="M1742.9 313h7.3"/>
<path d="M1742.9 436h7.3"/>
<path d="M1742.9 559h7.3"/>
<path d="M1742.9 682h7.3"/>
<path d="M1742.9 805h7.3"/>
<path d="M1742.9 863h7.3"/>
<path d="M1742.9 945h7.3"/>
<path d="M1742.9 1028h7.3"/>
<path d="M109 1105.7v7.3"/>
<path d="M423 1105.7v7.3"/>
<path d="M738 1105.7v7.3"/>
<path d="M1052 1105.7v7.3"/>
<path d="M1366 1105.7v7.3"/>
<path d="M1680 1105.7v7.3"/>
</g>
<g font-size="20.83" fill="#808080">
<text x="1757.9" y="198.0">0.0006</text>
<text x="1757.9" y="322.0">0.0005</text>
<text x="1757.9" y="445.0">0.0004</text>
<text x="1757.9" y="568.0">0.0003</text>
<text x="1757.9" y="691.0">0.0002</text>
<text x="1757.9" y="814.0">0.0001</text>
<text x="1757.9" y="872.0">600</text>
<text x="1757.9" y="954.0">400</text>
<text x="1757.9" y="1037.0">200</text>
<text transform="translate(106.5 1153.9) rotate(-45)" text-anchor="middle" y="7.6">Sep 19</text>
<text transform="translate(420.5 1153.9) rotate(-45)" text-anchor="middle" y="7.6">Oct 09</text>
<text transform="translate(735.5 1153.9) rotate(-45)" text-anchor="middle" y="7.6">Oct 29</text>
<text transform="translate(1049.5 1153.9) rotate(-45)" text-anchor="middle" y="7.6">Nov 18</text>
<text transform="translate(1363.5 1153.9) rotate(-45)" text-anchor="middle" y="7.6">Dec 08</text>
</g>
<text transform="translate(1855.6 501.5) rotate(-90)" text-anchor="middle" font-size="20.83" fill="#000">Price</text>
<text transform="translate(1825.2 972.8) rotate(-90)" text-anchor="middle" font-size="20.83" fill="#000" letter-spacing="0.1" xml:space="preserve" style="white-space:pre">Volume  10<tspan font-size="16" dy="-8.6" dx="0.4">6</tspan></text>
</svg>
</body></html>
